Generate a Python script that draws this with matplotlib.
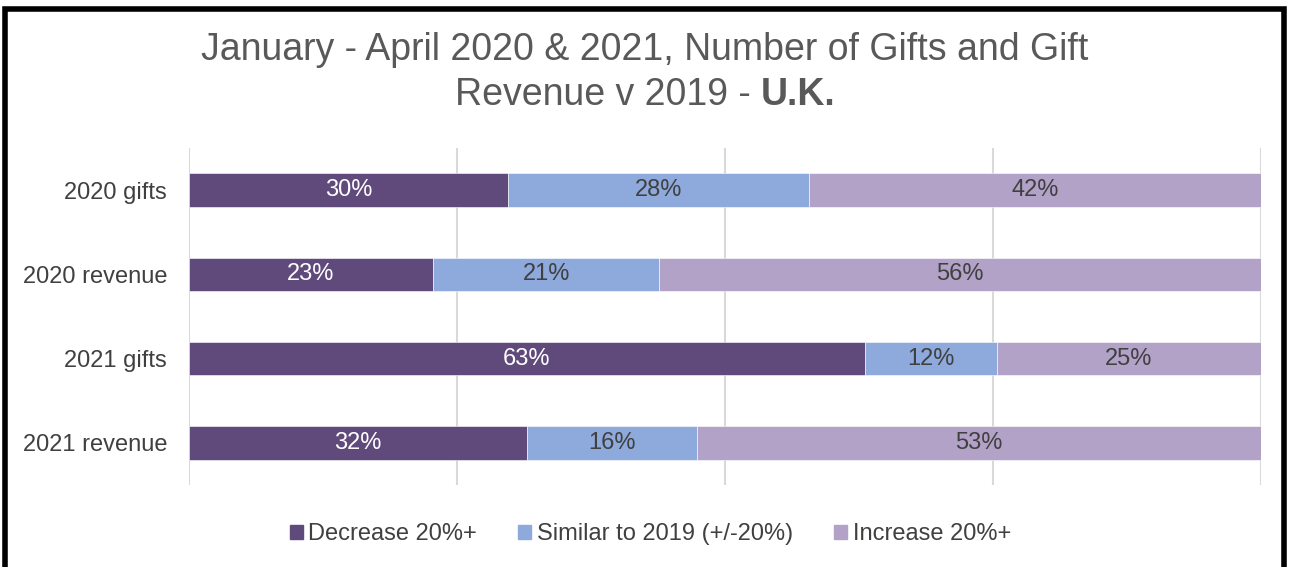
import matplotlib
matplotlib.use("Agg")
import matplotlib.pyplot as plt
from matplotlib.patches import Rectangle
import numpy as np

plt.rcParams['font.family'] = ['Liberation Sans', 'DejaVu Sans']

categories = ["2020 gifts", "2020 revenue", "2021 gifts", "2021 revenue"]
series_names = ["Decrease 20%+", "Similar to 2019 (+/-20%)", "Increase 20%+"]
decrease = [29.8, 22.8, 63.1, 31.6]
similar = [28.1, 21.1, 12.3, 15.8]
increase = [42.1, 56.1, 24.6, 52.6]
colors = ["#604A7B", "#8EA9DB", "#B3A2C7"]
label_colors = ["white", "#404040", "#404040"]

fig = plt.figure(figsize=(12.9, 5.67), dpi=100)
ax = fig.add_axes([188.7/1290, 1-485/567, 1072/1290, 337/567])

data = np.array([decrease, similar, increase], dtype=float)
totals = data.sum(axis=0)
pct = data / totals * 100
y = np.arange(len(categories))
left = np.zeros(len(categories))
for i, name in enumerate(series_names):
    bars = ax.barh(y, pct[i], left=left, height=0.4, color=colors[i], label=name, zorder=3,
                   edgecolor='white', linewidth=0.4)
    for j, b in enumerate(bars):
        ax.text(left[j] + pct[i][j]/2, y[j], f"{round(data[i][j]):.0f}%", ha='center', va='center',
                color=label_colors[i], fontsize=17, zorder=4)
    left += pct[i]

ax.set_xlim(0, 100)
ax.set_ylim(3.5, -0.5)
ax.set_yticks(y)
ax.set_yticklabels(categories, fontsize=17, color="#404040")
ax.set_xticks([0, 25, 50, 75, 100])
ax.set_xticklabels([])
ax.tick_params(axis='both', length=0)
ax.tick_params(axis='y', pad=15.5)
ax.grid(axis='x', color="#D9D9D9", linewidth=1.5, zorder=0)
for s in ax.spines.values():
    s.set_visible(False)

# Title
fig.canvas.draw()
r = fig.canvas.get_renderer()
tcol = "#595959"
fig.text(0.5, 1-50/567, "January - April 2020 & 2021, Number of Gifts and Gift", ha='center', va='center',
         fontsize=27, color=tcol)
t1 = fig.text(0, 1-95/567, "Revenue v 2019 - ", ha='left', va='center', fontsize=27, color=tcol)
t2 = fig.text(0, 1-95/567, "U.K.", ha='left', va='center', fontsize=27, color=tcol, fontweight='bold')
w1 = t1.get_window_extent(r).width
w2 = t2.get_window_extent(r).width
x0 = (1290 - (w1 + w2)) / 2
t1.set_x(x0/1290)
t2.set_x((x0 + w1)/1290)

# Legend
handles = [Rectangle((0, 0), 1, 1, color=c) for c in colors]
fig.legend(handles, series_names, loc='center', bbox_to_anchor=(650.5/1290, 1-534/567), ncol=3,
           frameon=False, fontsize=17, handlelength=0.55, handleheight=0.55, handletextpad=0.25,
           columnspacing=1.74, labelcolor="#404040", borderpad=0, borderaxespad=0)

# Border
fig.add_artist(Rectangle((5/1290, -0.1), 1279/1290, 1.1 - 9/567, transform=fig.transFigure,
                         fill=False, edgecolor='black', linewidth=4))

fig.savefig("out.png", dpi=100)
